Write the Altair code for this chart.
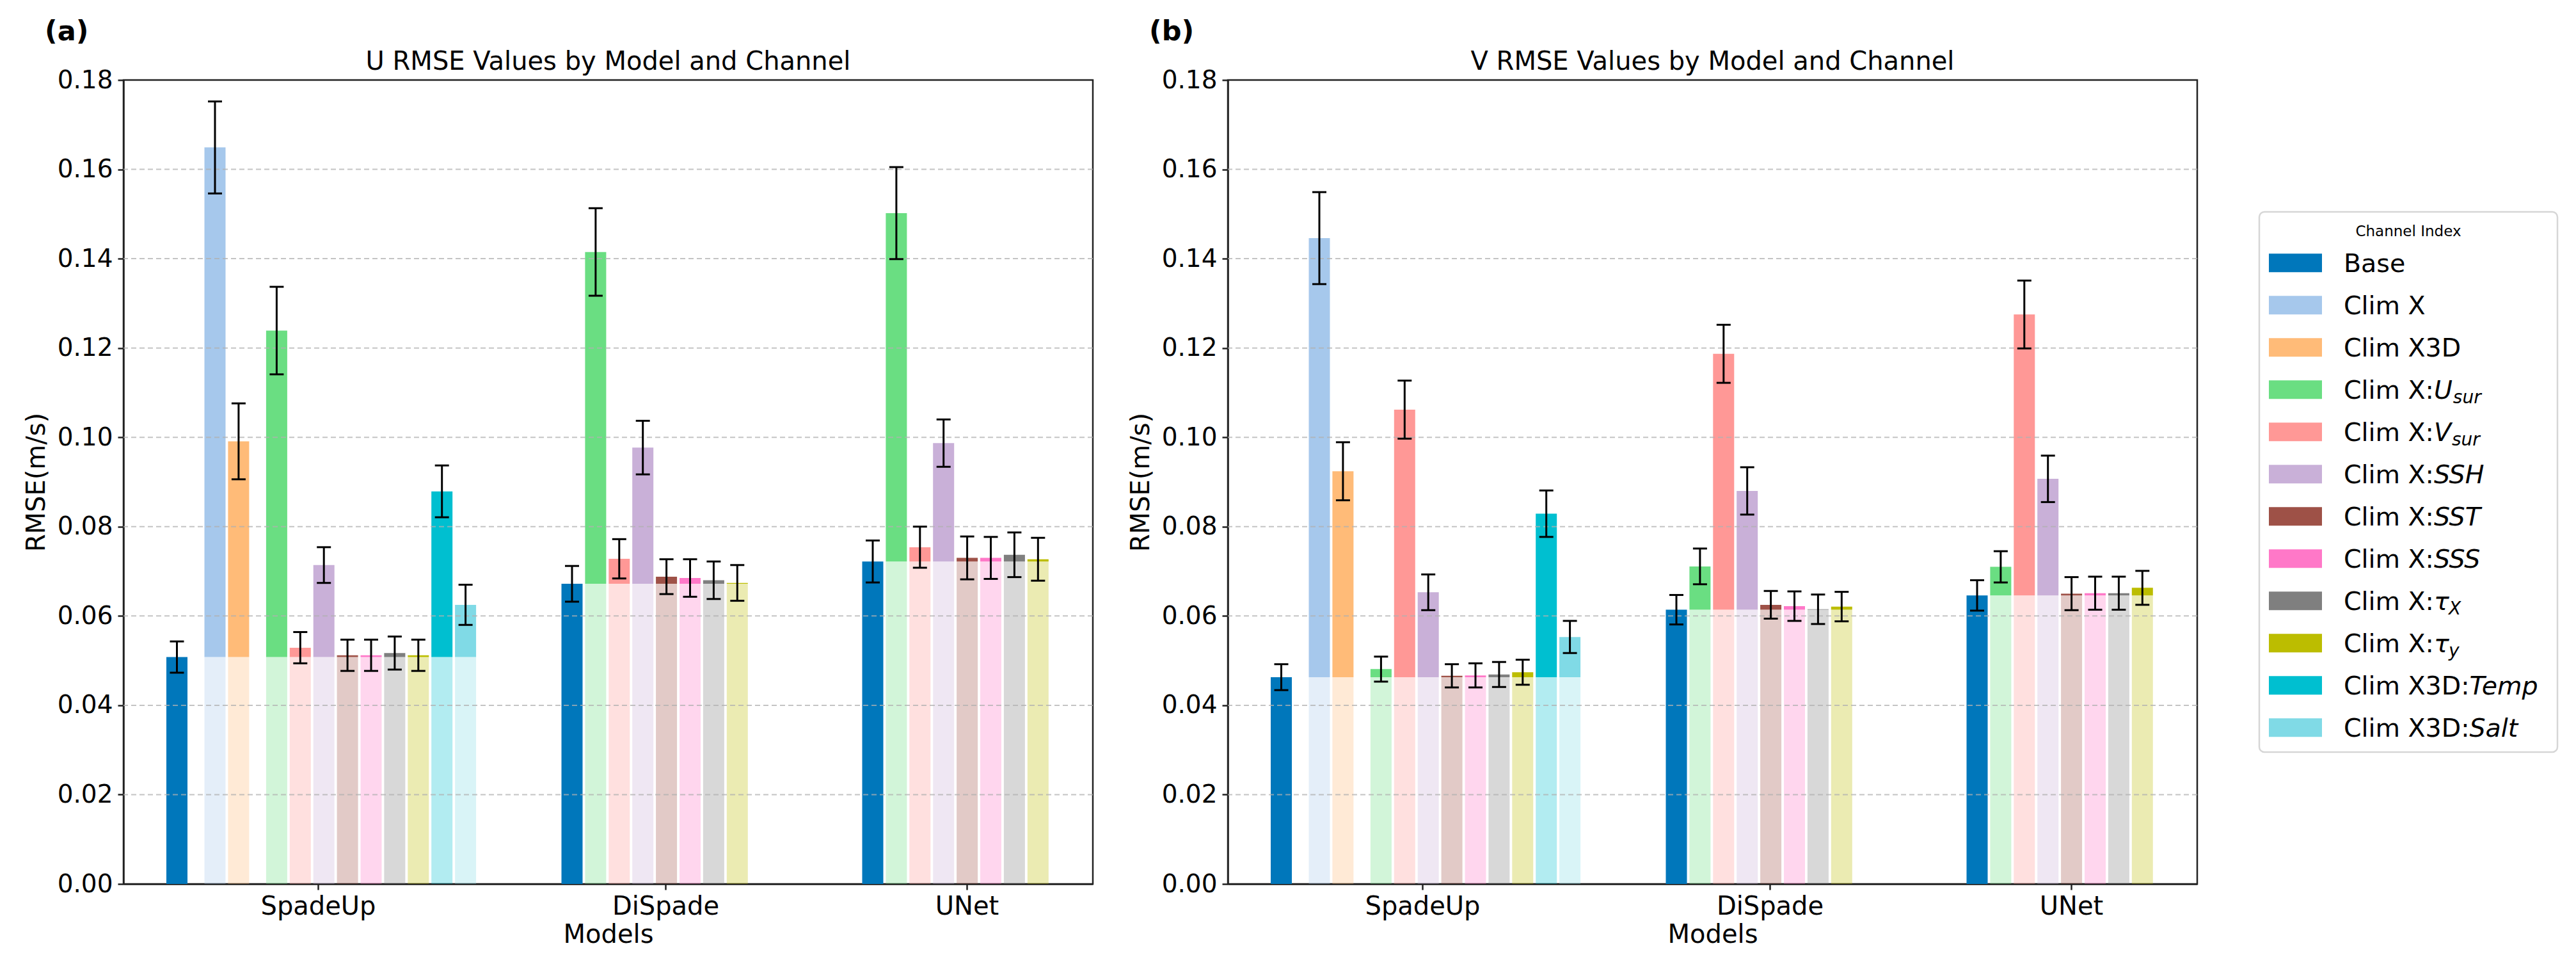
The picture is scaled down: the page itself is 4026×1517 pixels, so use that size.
import altair as alt
import pandas as pd

# ---------------- data ----------------
models = ["SpadeUp", "DiSpade", "UNet"]
channels = ["Base", "Clim X", "Clim X3D", "Clim X:Usur", "Clim X:Vsur", "Clim X:SSH",
            "Clim X:SST", "Clim X:SSS", "Clim X:tx", "Clim X:ty", "Clim X3D:Temp", "Clim X3D:Salt"]
colors = ["#0077bb", "#a6c8ec", "#ffbb78", "#6ade82", "#ff9896", "#c9b0d8",
          "#9e5147", "#ff78c8", "#7f7f7f", "#bcbd00", "#00bfd0", "#80dae6"]

# channels present per model (indices into channels)
spadeup_channels = list(range(12))
other_channels = [0, 3, 4, 5, 6, 7, 8, 9]
model_channels = [spadeup_channels, other_channels, other_channels]

# U RMSE
u_spadeup = [0.0508, 0.1649, 0.0991, 0.1239, 0.0529, 0.0714, 0.0512, 0.0512, 0.0517, 0.0512, 0.0879, 0.0625]
u_spadeup_err = [0.0035, 0.0103, 0.0085, 0.0098, 0.0035, 0.0040, 0.0035, 0.0035, 0.0037, 0.0035, 0.0058, 0.0045]
u_dispade = [0.0672, 0.1415, 0.0728, 0.0977, 0.0688, 0.0685, 0.0680, 0.0674]
u_dispade_err = [0.0040, 0.0098, 0.0044, 0.0060, 0.0039, 0.0042, 0.0042, 0.0040]
u_unet = [0.0722, 0.1502, 0.0754, 0.0987, 0.0730, 0.0730, 0.0737, 0.0727]
u_unet_err = [0.0047, 0.0103, 0.0046, 0.0053, 0.0048, 0.0047, 0.0050, 0.0048]

# V RMSE
v_spadeup = [0.0463, 0.1446, 0.0924, 0.0481, 0.1062, 0.0653, 0.0466, 0.0467, 0.0469, 0.0474, 0.0829, 0.0553]
v_spadeup_err = [0.0029, 0.0103, 0.0065, 0.0028, 0.0065, 0.0040, 0.0026, 0.0027, 0.0028, 0.0028, 0.0052, 0.0036]
v_dispade = [0.0614, 0.0711, 0.1187, 0.0880, 0.0625, 0.0622, 0.0615, 0.0621]
v_dispade_err = [0.0033, 0.0040, 0.0065, 0.0053, 0.0031, 0.0033, 0.0033, 0.0033]
v_unet = [0.0646, 0.0710, 0.1275, 0.0907, 0.0650, 0.0651, 0.0651, 0.0663]
v_unet_err = [0.0034, 0.0035, 0.0076, 0.0052, 0.0037, 0.0037, 0.0037, 0.0038]

y_ticks = [0.00, 0.02, 0.04, 0.06, 0.08, 0.10, 0.12, 0.14, 0.16, 0.18]
grid_vals = [0.02, 0.04, 0.06, 0.08, 0.10, 0.12, 0.14, 0.16]

# legend text pieces: (prefix, italic main, italic subscript)
legend_parts = [("Base", "", ""), ("Clim X", "", ""), ("Clim X3D", "", ""),
                ("Clim X:", "U", "sur"), ("Clim X:", "V", "sur"), ("Clim X:", "SSH", ""),
                ("Clim X:", "SST", ""), ("Clim X:", "SSS", ""), ("Clim X:", "τ", "X"),
                ("Clim X:", "τ", "y"), ("Clim X3D:", "Temp", ""), ("Clim X3D:", "Salt", "")]

# ---------------- layout constants ----------------
PW, PH = 1515, 1256
GROUP_START = [83.5, 701.0, 1171.0]
STEP = 36.9
GAP = 59.5
BAR_W = 33.0
CAP_W = 22.0
TICK_POS = [304, 847, 1318]
FONT = "DejaVu Sans"


def build_df(vals, errs):
    rows = []
    for m, model in enumerate(models):
        base = vals[m][0]
        for i, ch in enumerate(model_channels[m]):
            xc = GROUP_START[m] + i * STEP
            if m == 0:
                xc += (GAP - STEP) * (i >= 1) + (GAP - STEP) * (i >= 3)
            v = vals[m][i]
            e = errs[m][i]
            rows.append(dict(model=model, channel=channels[ch], value=v, err=e,
                             base=base, lo_bar=0.0 if ch == 0 else base,
                             is_base=(ch == 0), zero=0.0,
                             xc=xc, x0=xc - BAR_W / 2, x1=xc + BAR_W / 2,
                             c0=xc - CAP_W / 2, c1=xc + CAP_W / 2,
                             lo=v - e, hi=v + e))
    return pd.DataFrame(rows)


XS = alt.Scale(domain=[0, PW], nice=False, zero=False)
YS = alt.Scale(domain=[0, 0.18], nice=False, zero=True)
label_expr = " : ".join(
    [f"datum.value < {(TICK_POS[k] + TICK_POS[k + 1]) / 2} ? '{models[k]}'" for k in range(2)]
) + f" : '{models[2]}'"

XAX = alt.Axis(values=TICK_POS, labelExpr=label_expr, title="Models", labelAngle=0,
               labelFontSize=40, titleFontSize=40, titleFontWeight="normal",
               tickSize=9, tickWidth=2.5, tickColor="#222", domainColor="#222", domainWidth=2.5,
               labelPadding=6, titlePadding=4, grid=False, labelColor="black", titleColor="black",
               labelFont=FONT, titleFont=FONT)
YAX = alt.Axis(values=y_ticks, format=".2f", title="RMSE(m/s)",
               labelFontSize=39, titleFontSize=40, titleFontWeight="normal",
               tickSize=9, tickWidth=2.5, tickColor="#222", domainColor="#222", domainWidth=2.5,
               labelPadding=8, titlePadding=12, grid=False, labelColor="black", titleColor="black",
               labelFont=FONT, titleFont=FONT)
COLOR = alt.Color("channel:N", scale=alt.Scale(domain=channels, range=colors), legend=None)


def X(f):
    return alt.X(f, type="quantitative", scale=XS, axis=XAX)


def Y(f):
    return alt.Y(f, type="quantitative", scale=YS, axis=YAX)


def panel(vals, errs, title, tag, with_legend=False):
    df = build_df(vals, errs)
    nonbase = df[~df["is_base"]]
    pale = alt.Chart(nonbase).mark_bar(opacity=0.3).encode(
        x=X("x0"), x2="x1", y=Y("zero"), y2="base", color=COLOR)
    solid = alt.Chart(df).mark_bar().encode(
        x=X("x0"), x2="x1", y=Y("lo_bar"), y2="value", color=COLOR)
    grid = alt.Chart(pd.DataFrame({"g": grid_vals})).mark_rule(
        strokeDash=[8, 5], color="#b0b0b0", opacity=0.75, strokeWidth=2).encode(y=Y("g"))
    err = alt.Chart(df).mark_rule(color="black", strokeWidth=3).encode(
        x=X("xc"), y=Y("lo"), y2="hi")
    cap_hi = alt.Chart(df).mark_rule(color="black", strokeWidth=3).encode(
        x=X("c0"), x2="c1", y=Y("hi"))
    cap_lo = alt.Chart(df).mark_rule(color="black", strokeWidth=3).encode(
        x=X("c0"), x2="c1", y=Y("lo"))
    tag_txt = alt.Chart(pd.DataFrame({"t": [tag]})).mark_text(
        align="left", baseline="top", fontSize=43, fontWeight="bold", font=FONT,
        color="black", x=-123, y=-96).encode(text="t:N")
    title_txt = alt.Chart(pd.DataFrame({"t": [title]})).mark_text(
        align="center", baseline="alphabetic", fontSize=40, font=FONT,
        color="black", x=PW / 2, y=-16).encode(text="t:N")
    main = alt.layer(pale, solid, grid, err, cap_hi, cap_lo, tag_txt, title_txt)

    if with_legend:
        LX = alt.Scale(domain=[0, PW], nice=False, zero=False)
        LY = alt.Scale(domain=[0, PH], nice=False, zero=False, reverse=True)
        fs = 39.5
        em = {'C': .698, 'l': .278, 'i': .278, 'm': .974, ' ': .318, 'X': .685, ':': .337,
              '3': .636, 'D': .770, 'U': .732, 'V': .684, 'S': .635, 'H': .752, 'T': .611,
              'e': .615, 'p': .635, 'a': .613, 't': .392, 'τ': .56, 's': .521, 'u': .634,
              'r': .411, 'y': .592, 'B': .686}

        def w(s):
            return sum(em.get(c, 0.6) for c in s) * fs

        LEG_L, LEG_R, LEG_T, LEG_B = 1612, 2078, 206, 1050
        ROW0, ROW_STEP = 285.7, 66.0
        SW_L, SW_R, SW_H = 1627, 1710, 29
        TX = 1744
        rows = []
        for i, (pre, main_t, sub) in enumerate(legend_parts):
            cy = ROW0 + ROW_STEP * i
            mx = TX + w(pre)
            rows.append(dict(channel=channels[i], pre=pre, main=main_t, sub=sub,
                             s0=SW_L, s1=SW_R, sy0=cy - SW_H / 2, sy1=cy + SW_H / 2,
                             tx=TX, mx=mx, subx=mx + w(main_t) + 1,
                             ty=cy + 14.5, suby=cy + 21.5))
        ldf = pd.DataFrame(rows)
        box = alt.Chart(pd.DataFrame({"x0": [LEG_L], "x1": [LEG_R], "y0": [LEG_T], "y1": [LEG_B]})).mark_rect(
            fill="white", stroke="#d6d6d6", strokeWidth=2.5, cornerRadius=8).encode(
            x=alt.X("x0:Q", scale=LX, axis=None), x2="x1",
            y=alt.Y("y0:Q", scale=LY, axis=None), y2="y1")
        ltitle = alt.Chart(pd.DataFrame({"t": ["Channel Index"], "x": [(LEG_L + LEG_R) / 2], "y": [LEG_T + 38]})).mark_text(
            align="center", baseline="alphabetic", fontSize=23, font=FONT, color="black").encode(
            x=alt.X("x:Q", scale=LX, axis=None), y=alt.Y("y:Q", scale=LY, axis=None), text="t:N")
        sw = alt.Chart(ldf).mark_rect().encode(
            x=alt.X("s0:Q", scale=LX, axis=None), x2="s1",
            y=alt.Y("sy0:Q", scale=LY, axis=None), y2="sy1", color=COLOR)
        t_pre = alt.Chart(ldf).mark_text(align="left", baseline="alphabetic", fontSize=fs,
                                         font=FONT, color="black").encode(
            x=alt.X("tx:Q", scale=LX, axis=None), y=alt.Y("ty:Q", scale=LY, axis=None), text="pre:N")
        t_main = alt.Chart(ldf[ldf["main"] != ""]).mark_text(
            align="left", baseline="alphabetic", fontSize=fs, fontStyle="italic",
            font=FONT, color="black").encode(
            x=alt.X("mx:Q", scale=LX, axis=None), y=alt.Y("ty:Q", scale=LY, axis=None), text="main:N")
        t_sub = alt.Chart(ldf[ldf["sub"] != ""]).mark_text(
            align="left", baseline="alphabetic", fontSize=28, fontStyle="italic",
            font=FONT, color="black").encode(
            x=alt.X("subx:Q", scale=LX, axis=None), y=alt.Y("suby:Q", scale=LY, axis=None), text="sub:N")
        legend = alt.layer(box, ltitle, sw, t_pre, t_main, t_sub)
        chart = alt.layer(main, legend).resolve_scale(x="independent", y="independent")
    else:
        chart = main

    return chart.properties(width=PW, height=PH)


pa = panel([u_spadeup, u_dispade, u_unet], [u_spadeup_err, u_dispade_err, u_unet_err],
           "U RMSE Values by Model and Channel", "(a)")
pb = panel([v_spadeup, v_dispade, v_unet], [v_spadeup_err, v_dispade_err, v_unet_err],
           "V RMSE Values by Model and Channel", "(b)", with_legend=True)

chart = alt.hconcat(pa, pb, spacing=50).properties(
    padding={"left": 27, "top": 19, "right": 5, "bottom": 5}
).configure(font=FONT).configure_view(stroke="#222", strokeWidth=2.5)

chart.save("out.html", embed_options={"renderer": "svg", "actions": False})
